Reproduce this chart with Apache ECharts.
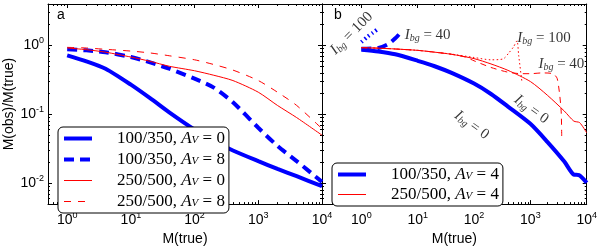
<!DOCTYPE html>
<html><head><meta charset="utf-8">
<script src="https://cdn.jsdelivr.net/npm/echarts@6/dist/echarts.min.js"></script>
<style>html,body{margin:0;padding:0;background:#fff}#c{width:600px;height:251px}</style>
</head><body><div id="c"></div>
<script>
// ---------- data (panel a) ----------
const massA = [1,2,4,10,20,40,100,200,400,1000,2000,4000,10000];
const a_100_350_Av0 = [0.72,0.59,0.46,0.27,0.172,0.107,0.06,0.041,0.030,0.021,0.0162,0.0127,0.0091];
const a_100_350_Av8 = [0.88,0.85,0.80,0.68,0.57,0.46,0.33,0.245,0.15,0.064,0.035,0.021,0.0105];
const a_250_500_Av0 = [0.92,0.87,0.80,0.68,0.59,0.50,0.43,0.37,0.31,0.21,0.135,0.09,0.05];
const a_250_500_Av8 = [0.94,0.92,0.88,0.83,0.78,0.71,0.62,0.53,0.44,0.31,0.21,0.135,0.062];
// ---------- data (panel b) ----------
const massB_blue0 = [1,2,4,10,20,40,100,200,400,1000,2000,4000,5900,7300,10000];
const b_100_350_Ibg0 = [0.87,0.82,0.745,0.60,0.50,0.40,0.28,0.198,0.13,0.073,0.040,0.0207,0.0134,0.0132,0.0102];
const massB_blue40 = [1,2,3,4,4.8];
const b_100_350_Ibg40 = [0.90,0.92,1.05,1.27,1.49];
const massB_blue100 = [1,1.3,1.6,2.0];
const b_100_350_Ibg100 = [1.12,1.35,1.53,1.76];
const massB_red0 = [1,2,4,10,20,40,100,200,400,1000,2000,4000,5900,7500,10000];
const b_250_500_Ibg0 = [0.93,0.915,0.89,0.85,0.80,0.745,0.645,0.54,0.436,0.30,0.19,0.112,0.08,0.076,0.054];
const massB_red40 = [1,2,4,10,20,40,70,100,200,400,700,1000,1600,2500,3000,3500,3600];
const b_250_500_Ibg40 = [0.93,0.915,0.89,0.85,0.80,0.745,0.68,0.60,0.48,0.41,0.39,0.39,0.40,0.39,0.33,0.12,0.046];
const massB_red100 = [1,2,4,10,20,40,100,200,330,414,500,578,620,710];
const b_250_500_Ibg100 = [0.93,0.915,0.89,0.85,0.80,0.75,0.67,0.62,0.64,0.78,0.95,1.17,0.72,0.29];
// annotation anchors (data coords, panel b)
const annMass = [0.67, 15, 1740, 3550, 1040, 91];
const annRatio = [1.5, 1.41, 1.28, 0.53, 0.118, 0.07];
const annValue = ['100','40','100','40','0','0'];
// ticks
const xMinorA = [0.6,0.7,0.8,0.9,2,3,4,5,6,7,8,9,20,30,40,50,60,70,80,90,200,300,400,500,600,700,800,900,2000,3000,4000,5000,6000,7000,8000,9000];
const xMinorB = [0.3,0.4,0.5,0.6,0.7,0.8,0.9].concat(xMinorA.slice(4));
const yMinor = [0.006,0.007,0.008,0.009,0.02,0.03,0.04,0.05,0.06,0.07,0.08,0.09,0.2,0.3,0.4,0.5,0.6,0.7,0.8,0.9,2,3];

const zip = (xs, ys) => xs.map((x,i)=>[x, ys[i]]);
const SANS = "'Liberation Sans Narrow','Liberation Sans',Arial,sans-serif";
const SANSW = "'Liberation Sans',Arial,sans-serif";
const SERIF = "'Liberation Serif','DejaVu Serif',serif";

const tickRich = {
  b:{fontFamily:SANS,fontSize:14,color:'#000',lineHeight:18},
  s:{fontFamily:SANS,fontSize:9,color:'#000',lineHeight:10,verticalAlign:'top'}
};
const powFmt = v => '{b|10}{s|' + Math.round(Math.log10(v)) + '}';

function xAxes(g, min){
  const base = {type:'log', logBase:10, gridIndex:g, min:min, max:10000, offset:0,
    splitLine:{show:false}, minorTick:{show:false}, minorSplitLine:{show:false},
    axisLine:{show:true, onZero:false, lineStyle:{color:'#000',width:1}}};
  const minor = g===0 ? xMinorA : xMinorB;
  return [
    Object.assign({}, base, {position:'bottom', name:'M(true)', nameLocation:'middle', nameGap:23,
      nameTextStyle:{fontFamily:SANS,fontSize:14,color:'#000'},
      axisTick:{show:true,inside:true,length:4,lineStyle:{color:'#000'}},
      axisLabel:{show:true,showMinLabel:false,margin:7,formatter:powFmt,rich:tickRich}}),
    Object.assign({}, base, {position:'top',
      axisTick:{show:true,inside:true,length:4,lineStyle:{color:'#000'}},
      axisLabel:{show:false}}),
    Object.assign({}, base, {position:'bottom', axisLine:{show:false},
      axisTick:{show:true,inside:true,length:2,customValues:minor,lineStyle:{color:'#000'}},
      axisLabel:{show:false}}),
    Object.assign({}, base, {position:'top', axisLine:{show:false},
      axisTick:{show:true,inside:true,length:2,customValues:minor,lineStyle:{color:'#000'}},
      axisLabel:{show:false}})
  ];
}
function yAxes(g){
  const base = {type:'log', logBase:10, gridIndex:g, min:0.005, max:4, offset:0,
    splitLine:{show:false}, minorTick:{show:false}, minorSplitLine:{show:false},
    axisLine:{show:true, onZero:false, lineStyle:{color:'#000',width:1}}};
  const main = Object.assign({}, base, {position:'left',
      axisTick:{show:true,inside:true,length:4,lineStyle:{color:'#000'}},
      axisLabel:{show:g===0,showMinLabel:false,showMaxLabel:false,margin:4,formatter:powFmt,rich:tickRich}});
  if (g===0) Object.assign(main, {name:'M(obs)/M(true)', nameLocation:'middle', nameGap:28,
      nameTextStyle:{fontFamily:SANSW,fontSize:14,color:'#000'}});
  return [
    main,
    Object.assign({}, base, {position:'right',
      axisTick:{show:true,inside:true,length:4,lineStyle:{color:'#000'}},
      axisLabel:{show:false}}),
    Object.assign({}, base, {position:'left', axisLine:{show:false},
      axisTick:{show:true,inside:true,length:2,customValues:yMinor,lineStyle:{color:'#000'}},
      axisLabel:{show:false}}),
    Object.assign({}, base, {position:'right', axisLine:{show:false},
      axisTick:{show:true,inside:true,length:2,customValues:yMinor,lineStyle:{color:'#000'}},
      axisLabel:{show:false}})
  ];
}

const seriesStyle = {};
function line(name, g, xs, ys, color, width, type){
  seriesStyle[name] = {color:color, width:width, type:type, opacity:1};
  return {name:name, type:'line', xAxisIndex:g*4, yAxisIndex:g*4, data:zip(xs,ys),
    showSymbol:false, symbol:'none', smooth:0.25, animation:false, z:3, color:color,
    lineStyle:{color:color, width:width, type:type, cap:'butt'}, itemStyle:{color:color}};
}

const legRich = {
  t:{fontFamily:SERIF,fontSize:17,color:'#000',lineHeight:14},
  p:{fontFamily:SERIF,fontSize:17,color:'#000',lineHeight:14,padding:[0,0,0,20]},
  i:{fontFamily:SERIF,fontStyle:'italic',fontSize:17,color:'#000',lineHeight:14},
  sub:{fontFamily:SERIF,fontStyle:'italic',fontSize:11,color:'#000',lineHeight:6,verticalAlign:'bottom'}
};
const legFmt = name => { const p = name.split('|'); return '{p|'+p[0]+', }{i|A}{sub|V}{t| = '+p[1]+'}'; };

const annRich = {
  i:{fontFamily:SERIF,fontStyle:'italic',fontSize:15,color:'#000',lineHeight:16},
  sub:{fontFamily:SERIF,fontStyle:'italic',fontSize:10,color:'#000',lineHeight:8,verticalAlign:'bottom'},
  t:{fontFamily:SERIF,fontSize:15,color:'#000',lineHeight:16}
};
const annRot = [45,0,0,0,-36,-36];

const seriesList = [
    line('100/350|0',0,massA,a_100_350_Av0,'#0000ff',4,'solid'),
    line('100/350|8',0,massA,a_100_350_Av8,'#0000ff',4,[10,6]),
    line('250/500|0',0,massA,a_250_500_Av0,'#ff0000',1,'solid'),
    line('250/500|8',0,massA,a_250_500_Av8,'#ff0000',1,[7,7]),
    line('100/350|4',1,massB_blue0,b_100_350_Ibg0,'#0000ff',4,'solid'),
    line('b_blue40',1,massB_blue40,b_100_350_Ibg40,'#0000ff',4,[10,6]),
    line('b_blue100',1,massB_blue100,b_100_350_Ibg100,'#0000ff',4,[1.5,3]),
    line('250/500|4',1,massB_red0,b_250_500_Ibg0,'#ff0000',1,'solid'),
    line('b_red40',1,massB_red40,b_250_500_Ibg40,'#ff0000',1,[6,5]),
    line('b_red100',1,massB_red100,b_250_500_Ibg100,'#ff0000',1,[1.5,2.5]),
    {name:'ann', type:'scatter', xAxisIndex:4, yAxisIndex:4, symbolSize:1, z:5,
     itemStyle:{color:'rgba(0,0,0,0)'},
     data: annMass.map((m,i)=>({value:[m, annRatio[i]],
        label:{show:true, position:'inside', rotate:annRot[i], rich:annRich,
          formatter:'{i|I}{sub|bg}{t| = '+annValue[i]+'}'}}))}
];

const legItem = n => ({name:n, lineStyle:Object.assign({}, seriesStyle[n])});
const legendBase = {orient:'vertical', itemWidth:28, itemHeight:14, borderColor:'#000', borderWidth:1,
  borderRadius:5, backgroundColor:'#fff', formatter:legFmt, textStyle:{rich:legRich}, selectedMode:false,
  itemStyle:{opacity:0}, lineStyle:{width:'inherit'}};

const option = {
  animation:false,
  backgroundColor:'#fff',
  title:[
    {text:'a', left:57, top:8, padding:0, textStyle:{fontFamily:SANSW,fontSize:14,fontWeight:'normal',color:'#000'}},
    {text:'b', left:334, top:8, padding:0, textStyle:{fontFamily:SANSW,fontSize:14,fontWeight:'normal',color:'#000'}}
  ],
  grid:[
    {left:48, top:4, width:274, height:205},
    {left:322, top:4, width:271, height:205}
  ],
  xAxis: xAxes(0,0.5).concat(xAxes(1,0.2)),
  yAxis: yAxes(0).concat(yAxes(1)),
  legend:[
    Object.assign({}, legendBase, {data:['100/350|0','100/350|8','250/500|0','250/500|8'].map(legItem), left:58, top:127,
      itemGap:4, padding:[3,4,3,4]}),
    Object.assign({}, legendBase, {data:['100/350|4','250/500|4'].map(legItem), left:332, top:163,
      itemGap:3, padding:[3,4,3,4]})
  ],
  series: seriesList
};
const chart = echarts.init(document.getElementById('c'), null, {renderer:'canvas'});
chart.setOption(option);
</script>
</body></html>
